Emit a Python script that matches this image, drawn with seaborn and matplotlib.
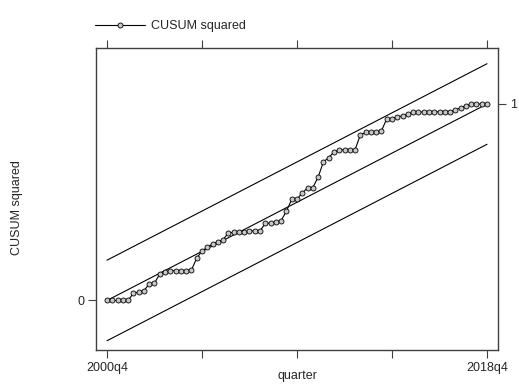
import numpy as np
import pandas as pd
import matplotlib
matplotlib.use("Agg")
import matplotlib.pyplot as plt
import seaborn as sns

# Quarterly sample, 2000q4 .. 2018q4
quarters = pd.period_range("2000Q4", "2018Q4", freq="Q")
quarter_labels = [f"{p.year}q{p.quarter}" for p in quarters]

# Cumulative sum of squared recursive residuals
cusum_sq = [
    0.000, 0.000, 0.000, 0.000, 0.000, 0.037, 0.042, 0.050, 0.084, 0.088,
    0.135, 0.144, 0.150, 0.152, 0.152, 0.152, 0.154, 0.216, 0.252, 0.270,
    0.288, 0.298, 0.310, 0.344, 0.347, 0.348, 0.349, 0.354, 0.354, 0.355,
    0.392, 0.394, 0.399, 0.407, 0.455, 0.514, 0.516, 0.547, 0.573, 0.575,
    0.628, 0.705, 0.727, 0.756, 0.766, 0.767, 0.768, 0.768, 0.842, 0.856,
    0.857, 0.857, 0.864, 0.924, 0.925, 0.935, 0.940, 0.949, 0.958, 0.959,
    0.959, 0.959, 0.960, 0.960, 0.960, 0.961, 0.969, 0.981, 0.990, 0.998,
    0.999, 1.000, 1.000,
]
# Half-width of the significance band around the expected path
band = 0.205

n = len(cusum_sq)
t = np.arange(n)
expected = t / (n - 1)

df = pd.DataFrame({
    "t": t,
    "quarter": quarter_labels,
    "cusum_sq": cusum_sq,
    "expected": expected,
    "upper": expected + band,
    "lower": expected - band,
})

sns.set_style("ticks")
plt.rcParams["font.family"] = ["Liberation Sans", "DejaVu Sans"]
plt.rcParams["font.size"] = 9

fig = plt.figure(figsize=(5.19, 3.85), dpi=100)
ax = fig.add_axes([96 / 519, 35 / 385, 402 / 519, 302 / 385])

line_kw = dict(color="black", linewidth=0.8)
for col in ["upper", "expected", "lower"]:
    sns.lineplot(data=df, x="t", y=col, ax=ax, legend=False, **line_kw)

sns.lineplot(
    data=df, x="t", y="cusum_sq", ax=ax, label="CUSUM squared",
    marker="o", markersize=3.6, markerfacecolor="#c8c8c8",
    markeredgecolor="black", markeredgewidth=0.6, **line_kw,
)

ax.set_xlim(-2.08, 74.08)
ax.set_ylim(-0.252, 1.285)

frame_color = "#404040"
for s in ax.spines.values():
    s.set_visible(True)
    s.set_color(frame_color)
    s.set_linewidth(1.0)

tick_pos = [0, 18, 36, 54, 72]
tick_lab = [quarter_labels[0], "", "", "", quarter_labels[-1]]
ax.set_xticks(tick_pos)
ax.set_xticklabels(tick_lab)
ax.set_yticks([0])
ax.set_yticklabels(["0"])
ax.tick_params(axis="both", direction="out", length=6, width=0.8,
               color=frame_color, labelsize=9, pad=2.5)

# Top axis: ticks only
top = ax.secondary_xaxis("top")
top.set_xticks(tick_pos)
top.set_xticklabels([])
top.tick_params(direction="out", length=6, width=0.8, color=frame_color)
top.spines["top"].set_visible(False)

# Right axis marks the end value
right = ax.secondary_yaxis("right")
right.set_yticks([1])
right.set_yticklabels(["1"])
right.tick_params(direction="out", length=6, width=0.8, color=frame_color,
                  labelsize=9, pad=3)
right.spines["right"].set_visible(False)

ax.set_xlabel("quarter", fontsize=9)
ax.set_ylabel("CUSUM squared", fontsize=9)
ax.xaxis.set_label_coords(0.5, -0.066)
ax.yaxis.set_label_coords(-0.182, 0.47)

ax.get_legend().remove()
handles, labels = ax.get_legend_handles_labels()
fig.legend(handles, labels, loc="center left",
           bbox_to_anchor=(90 / 519, 1 - 26 / 385), frameon=False,
           handlelength=4.0, handletextpad=0.5, fontsize=9,
           borderaxespad=0)

fig.savefig("out.png", dpi=100, facecolor="white")
